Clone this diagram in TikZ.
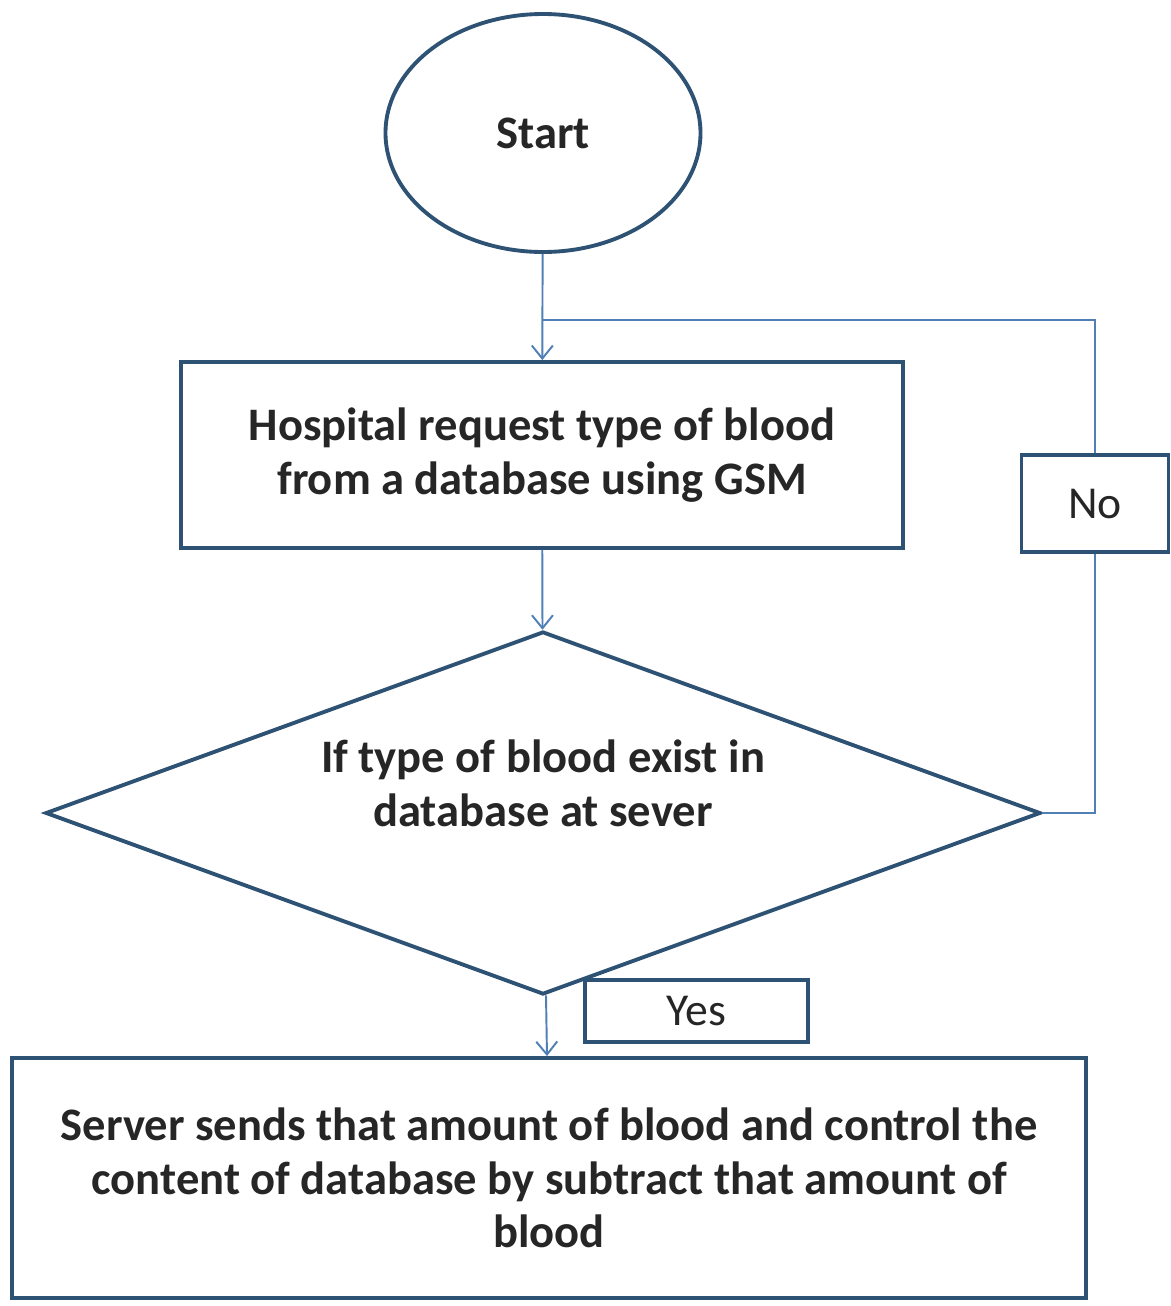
\documentclass[tikz,border=0pt]{standalone}
\usepackage{fontspec}
\setmainfont{Carlito}
\usetikzlibrary{shapes.geometric,arrows.meta}
\definecolor{boxline}{HTML}{2E5273}
\definecolor{linkline}{HTML}{4F7FB5}
\definecolor{ink}{HTML}{262626}
\begin{document}
\begin{tikzpicture}[
  bigtext/.style={font=\fontsize{26.5}{30.5}\selectfont\bfseries, text=ink, align=center},
  smalltext/.style={font=\fontsize{26}{30}\selectfont, text=ink},
  block/.style={draw=boxline, line width=2.2pt, fill=white},
  link/.style={draw=linkline, line width=1.1pt},
  >={Straight Barb[length=2.6mm,width=4.2mm]}
]
\useasboundingbox (0,0) rectangle (23.42,-26.12);

\node[ellipse, block, bigtext, minimum width=6.3cm, minimum height=4.76cm, inner sep=0pt] (start) at (10.86,-2.66) {Start};
\node[rectangle, block, bigtext, minimum width=14.44cm, minimum height=3.72cm] (request) at (10.84,-9.10) {Hospital request type of blood\\from a database using GSM};
\node[diamond, block, bigtext, aspect=2.74, minimum width=19.9cm, minimum height=7.26cm, inner sep=0pt, text depth=1.2cm] (check) at (10.86,-16.26) {If type of blood exist in\\database at sever};
\node[rectangle, block, bigtext, minimum width=21.48cm, minimum height=4.8cm] (send) at (10.98,-23.56) {Server sends that amount of blood and control the\\content of database by subtract that amount of\\blood};
\node[rectangle, block, smalltext, line width=1.8pt, minimum width=2.94cm, minimum height=1.94cm] (no) at (21.9,-10.07) {No};
\coordinate (loop) at (10.86,-6.4);

\path[link,->] (start) -- (request);
\path[link,->] (request) -- (check);
\path[link,->] (check) -- (send);
\path[link] (check.east) -| (no.south);
\path[link] (no.north) |- (loop);

\node[rectangle, block, smalltext, line width=1.8pt, minimum width=4.46cm, minimum height=1.24cm] (yes) at (13.93,-20.22) {Yes};
\end{tikzpicture}
\end{document}
